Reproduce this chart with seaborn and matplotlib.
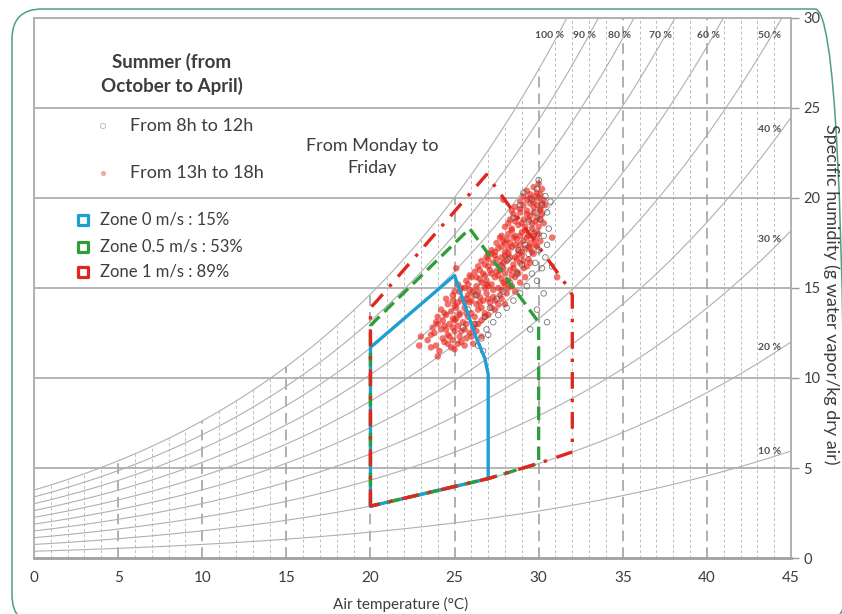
import matplotlib
matplotlib.use('Agg')
import matplotlib.pyplot as plt
import numpy as np
import pandas as pd
import seaborn as sns
from matplotlib.patches import FancyBboxPatch
from matplotlib.transforms import IdentityTransform

# --- data ---
rh_levels = [10, 20, 30, 40, 50, 60, 70, 80, 90, 100]
top_labels = ['100 %', '90 %', '80 %', '70 %', '60 %', '50 %']
top_label_x = [31.5, 33.4, 35.5, 37.9, 40.8, 44.4]
side_labels = ['40 %', '30 %', '20 %', '10 %']
side_label_y = [23.8, 17.7, 11.7, 5.9]

x_ticks = [0, 5, 10, 15, 20, 25, 30, 35, 40, 45]
y_ticks = [0, 5, 10, 15, 20, 25, 30]

# comfort zones (air temperature, specific humidity)
zone0_t = [20, 20, 25, 26.3, 26.8, 27, 27, 20]
zone0_w = [2.88, 11.7, 15.7, 12.2, 11.1, 10.2, 4.41, 2.88]
zone05_t = [20, 20, 20.3, 25.9, 30, 30, 27, 20]
zone05_w = [2.88, 12.9, 13.2, 18.3, 13.1, 5.26, 4.41, 2.88]
zone1_t = [20, 20, 20.4, 26.9, 31.7, 32, 32, 30, 27, 20]
zone1_w = [2.88, 13.9, 14.3, 21.3, 15.1, 14.6, 5.89, 5.26, 4.41, 2.88]

zone_labels = ['Zone 0 m/s : 15%', 'Zone 0.5 m/s : 53%', 'Zone 1 m/s : 89%']
zone_colors = ['#1e9fd4', '#2f9e3a', '#e1251f']

# measurements 13h-18h (red)
red_temp = [23.6, 24.1, 24.6, 25.0, 25.4, 23.4, 24.3, 24.9, 25.7, 26.1,
            23.8, 24.2, 24.6, 25.0, 25.3, 25.6, 25.9, 26.3, 24.4, 25.2,
            23.9, 24.3, 24.7, 25.1, 25.5, 25.8, 26.2, 26.6, 26.0, 24.5,
            24.2, 24.8, 25.3, 25.6, 26.4, 26.8, 27.2, 24.6, 25.0, 25.9, 26.3, 26.7, 27.1, 27.6, 25.4,
            24.9, 25.3, 25.8, 26.1, 26.5, 26.9, 27.3, 27.7, 28.1, 25.6, 26.3, 26.8,
            25.2, 27.2, 27.6, 28.0, 28.4, 25.7, 26.0, 26.5, 26.9, 27.4, 27.8, 28.2, 28.6, 28.9, 26.2, 26.7,
            27.1, 27.5, 27.9, 28.3, 28.7, 29.1, 26.4, 26.8, 27.3, 27.7, 28.1, 28.5, 28.9, 29.3,
            26.9, 27.4, 27.8, 28.2, 28.6, 29.0, 29.4, 29.7, 27.2, 27.6, 28.0, 28.4, 28.8, 29.2, 29.6, 29.9,
            27.5, 27.9, 28.3, 28.7, 29.1, 29.5, 29.8, 30.1, 27.8, 28.2, 28.6, 29.0, 29.4, 29.8,
            28.0, 28.4, 28.8, 29.2, 29.6, 30.0, 30.3, 28.3, 28.7, 29.1, 29.5, 29.9, 30.2,
            28.4, 28.9, 29.3, 29.7, 30.1, 30.4, 28.9, 29.3, 29.7, 30.0, 30.3,
            29.5, 29.9, 30.2, 29.7, 30.0,
            27.9, 31.1, 23.0, 22.9, 24.0, 26.6, 30.8, 25.1,
            23.9, 24.4, 24.8, 25.2, 25.6, 26.0, 23.6, 24.7,
            23.7, 24.0, 24.5, 24.9, 25.4, 25.7, 26.1, 26.4, 25.0, 26.8,
            24.0, 24.4, 24.9, 25.3, 25.7, 26.2, 26.6, 27.0, 27.4, 25.1, 25.6,
            24.5, 24.9, 25.2, 25.7, 26.0, 26.5, 27.0, 27.4, 27.8, 28.0, 26.2, 25.0,
            25.4, 25.9, 26.4, 26.9, 27.3, 27.8, 28.2, 28.6, 25.8, 26.6, 27.0, 27.9,
            25.9, 26.3, 26.8, 27.2, 27.6, 28.0, 28.4, 28.8, 29.2, 26.5, 27.0, 27.7, 28.5,
            26.6, 27.0, 27.5, 27.9, 28.3, 28.7, 29.1, 29.5, 27.2, 28.0, 28.8,
            27.0, 27.4, 27.8, 28.2, 28.6, 29.0, 29.4, 29.8, 28.0, 28.9, 29.5,
            27.7, 28.1, 28.5, 28.9, 29.3, 29.7, 30.0, 28.4, 29.2, 29.6,
            28.2, 28.6, 29.0, 29.4, 29.8, 30.1, 28.5, 28.9, 29.3, 29.7, 30.1,
            28.6, 29.1, 29.5, 29.9, 30.2, 29.1, 29.5, 29.8, 30.1, 29.3]
red_hum = [11.7, 11.5, 11.9, 11.6, 12.0, 12.1, 12.2, 12.1, 12.2, 11.9,
           12.5, 12.7, 12.4, 12.6, 12.3, 12.7, 12.5, 12.6, 12.9, 12.9,
           13.1, 13.2, 13.0, 13.3, 13.1, 13.4, 13.0, 13.2, 13.6, 13.5,
           13.8, 13.7, 13.6, 13.9, 13.8, 13.6, 13.9, 14.1, 14.0, 14.2, 14.1, 14.3, 14.2, 14.1, 14.4,
           14.6, 14.8, 14.6, 14.8, 14.5, 14.7, 14.5, 14.6, 14.7, 15.0, 15.1, 15.0,
           15.2, 15.2, 15.0, 15.2, 15.1, 15.4, 15.6, 15.5, 15.4, 15.6, 15.5, 15.4, 15.6, 15.3, 15.9, 15.8,
           16.0, 15.9, 16.1, 16.0, 15.9, 16.1, 16.2, 16.3, 16.4, 16.3, 16.5, 16.3, 16.4, 16.2,
           16.7, 16.8, 16.7, 16.9, 16.7, 16.8, 16.6, 16.9, 17.1, 17.2, 17.0, 17.3, 17.1, 17.2, 17.0, 17.3,
           17.5, 17.6, 17.5, 17.7, 17.6, 17.5, 17.7, 17.6, 17.9, 18.0, 17.9, 18.1, 17.9, 18.1,
           18.4, 18.3, 18.5, 18.4, 18.6, 18.4, 18.6, 18.8, 18.9, 18.8, 19.0, 18.9, 19.1,
           19.3, 19.4, 19.3, 19.5, 19.4, 19.6, 19.8, 19.9, 19.8, 20.0, 19.9,
           20.2, 20.3, 20.5, 20.6, 20.8,
           19.9, 15.6, 12.3, 11.8, 11.2, 12.3, 17.8, 16.1,
           11.8, 12.0, 11.7, 11.9, 11.8, 12.3, 12.4, 12.3,
           12.8, 13.0, 12.7, 12.8, 12.6, 13.0, 12.8, 13.0, 13.2, 13.4,
           13.4, 13.6, 13.3, 13.5, 13.6, 13.4, 13.9, 13.5, 13.8, 13.9, 14.2,
           14.4, 14.3, 14.2, 14.4, 14.3, 14.2, 14.4, 14.3, 14.4, 14.1, 14.6, 14.8,
           15.0, 14.9, 14.8, 15.2, 14.9, 14.9, 15.0, 14.8, 15.2, 15.3, 15.1, 15.3,
           15.7, 15.6, 15.7, 15.8, 15.7, 15.8, 15.7, 15.8, 15.6, 16.0, 16.2, 16.0, 16.1,
           16.5, 16.6, 16.6, 16.4, 16.7, 16.6, 16.5, 16.4, 16.9, 16.8, 16.9,
           16.9, 17.0, 17.3, 17.2, 17.4, 17.0, 17.3, 17.4, 17.5, 17.4, 17.2,
           17.8, 17.7, 17.8, 17.9, 17.8, 17.9, 18.0, 18.2, 18.2, 18.3,
           18.6, 18.7, 18.6, 18.8, 18.7, 18.8, 19.1, 19.2, 19.1, 19.2, 19.3,
           19.5, 19.6, 19.7, 19.6, 19.7, 20.1, 20.0, 20.1, 20.2, 20.4]

# measurements 8h-12h (grey open circles)
grey_temp = [30.4, 30.2, 30.5, 30.1, 30.6, 30.3, 30.5, 30.0, 30.4, 29.8, 30.2, 29.6,
             29.9, 29.3, 28.9, 28.5, 28.1, 27.6, 27.3, 26.9, 26.6, 26.4, 26.7,
             29.9, 29.6, 29.8, 29.4, 29.7, 29.2, 29.4, 29.0, 28.7, 28.3, 27.9, 27.5,
             27.1, 26.8, 26.2, 27.0,
             30.3, 30.5, 29.5, 29.9, 30.8, 30.7, 30.0, 28.8, 28.5, 28.9, 29.1, 27.8,
             28.2, 26.3, 25.8, 25.5]
grey_hum = [20.1, 19.6, 19.2, 18.8, 18.3, 17.9, 17.4, 17.1, 16.7, 16.4, 16.1, 15.8,
            15.4, 15.1, 14.7, 14.3, 13.9, 13.5, 13.1, 12.7, 12.2, 11.8, 11.5,
            20.5, 19.9, 19.2, 18.7, 18.0, 17.4, 16.9, 16.3, 15.8, 15.3, 14.8, 14.4,
            13.9, 13.4, 13.0, 12.4,
            14.7, 13.1, 12.7, 13.8, 16.2, 19.8, 21.0, 17.1, 18.9, 19.6, 20.3, 16.2,
            16.6, 14.6, 13.8, 12.8]

red_df = pd.DataFrame({'temp': red_temp, 'hum': red_hum})
grey_df = pd.DataFrame({'temp': grey_temp, 'hum': grey_hum})


def spec_hum(t, rh):
    # specific humidity (g/kg) at sea level pressure
    ps = 0.61094 * np.exp(17.625 * t / (t + 243.04))
    pv = rh / 100.0 * ps
    return 622.0 * pv / (101.325 - pv)


sns.set_style('white')
plt.rcParams['font.family'] = ['Lato', 'DejaVu Sans']

fig = plt.figure(figsize=(8.42, 6.14), dpi=100)
ax = fig.add_axes([0.0404, 0.0912, 0.899, 0.8795])

txt_c = '#3d3d3d'

# vertical grid, stopping at saturation
for t in range(1, 45):
    top = min(spec_hum(t, 100), 30)
    if t % 5 == 0:
        ax.plot([t, t], [0, top], color='#9a9a9a', lw=1.1, dashes=(7, 4), zorder=1)
    else:
        ax.plot([t, t], [0, top], color='#bdbdbd', lw=0.7, dashes=(3, 2.5), zorder=1)

# horizontal grid
for y in y_ticks[1:-1]:
    ax.axhline(y, color='#a0a0a0', lw=1.1, zorder=1)

# relative humidity curves
tt = np.linspace(0, 45, 300)
for rh in rh_levels:
    ax.plot(tt, spec_hum(tt, rh), color='#b0b0b0', lw=0.8, zorder=1)

for lab, x in zip(top_labels, top_label_x):
    ax.text(x, 29.05, lab, fontsize=7.5, fontweight='bold', color='#505050',
            ha='right', va='center')
for lab, y in zip(side_labels, side_label_y):
    ax.text(44.4, y, lab, fontsize=7.5, fontweight='bold', color='#505050',
            ha='right', va='center')

# scatter
sns.scatterplot(data=red_df, x='temp', y='hum', ax=ax, color='#e8281e', s=22,
                alpha=0.65, edgecolor='none', zorder=3, legend=False)
sns.scatterplot(data=grey_df, x='temp', y='hum', ax=ax, marker='o', s=16,
                facecolors='none', edgecolor='#555555', linewidth=0.6,
                alpha=0.8, zorder=4, legend=False)

# zones
ax.plot(zone0_t, zone0_w, color=zone_colors[0], lw=2.4, zorder=5,
        solid_joinstyle='round')
ax.plot(zone05_t, zone05_w, color=zone_colors[1], lw=2.4, dashes=(4, 2), zorder=6)
ax.plot(zone1_t, zone1_w, color=zone_colors[2], lw=2.4, dashes=(5, 3, 1, 3), zorder=7)

# annotations
ax.text(8.2, 26.9, 'Summer (from\nOctober to April)', fontsize=13.5, fontweight='bold',
        color=txt_c, ha='center', va='center', linespacing=1.35)
ax.scatter([4.1], [24.0], s=14, facecolors='none', edgecolors='#b5b5b5', lw=0.6)
ax.scatter([4.1], [21.4], s=7, color='#f0a8a8')
ax.text(5.7, 24.0, 'From 8h to 12h', fontsize=13, color=txt_c, va='center')
ax.text(5.7, 21.4, 'From 13h to 18h', fontsize=13, color=txt_c, va='center')
ax.text(20.1, 22.3, 'From Monday to\nFriday', fontsize=13, color=txt_c,
        ha='center', va='center', linespacing=1.45)

for i, (lab, y) in enumerate(zip(zone_labels, [18.8, 17.3, 15.9])):
    ax.scatter([2.9], [y], marker='s', s=60, facecolors='white',
               edgecolors=zone_colors[i], linewidths=2.3, zorder=8)
    ax.text(3.9, y, lab, fontsize=12, color=txt_c, va='center')

# axes
ax.set_xlim(0, 45)
ax.set_ylim(0, 30)
ax.set_xticks(x_ticks)
ax.set_yticks(y_ticks)
ax.yaxis.tick_right()
ax.tick_params(axis='x', direction='inout', length=8, width=1, color='#999999',
               labelsize=11, labelcolor=txt_c, pad=5)
ax.tick_params(axis='y', direction='out', length=6, width=1, color='#999999',
               labelsize=10.5, labelcolor=txt_c, pad=3)
for side in ['left', 'top', 'right']:
    ax.spines[side].set_color('#b0b0b0')
    ax.spines[side].set_linewidth(1.4)
ax.spines['bottom'].set_color('#a0a0a0')
ax.spines['bottom'].set_linewidth(2)
ax.set_xlabel('Air temperature (°C)', fontsize=11, color=txt_c)
ax.xaxis.set_label_coords(0.484, -0.072)
ax.set_ylabel('')
fig.text(0.987, 0.52, 'Specific humidity (g water vapor/kg dry air)', fontsize=13,
         color=txt_c, rotation=270, ha='center', va='center')

# rounded frame around the figure
frame = FancyBboxPatch((12, -11), 833, 616, boxstyle='round,pad=0,rounding_size=30',
                       transform=IdentityTransform(), fill=False,
                       edgecolor='#4f9e82', lw=1.1)
fig.patches.append(frame)

fig.savefig('out.png', dpi=100)
